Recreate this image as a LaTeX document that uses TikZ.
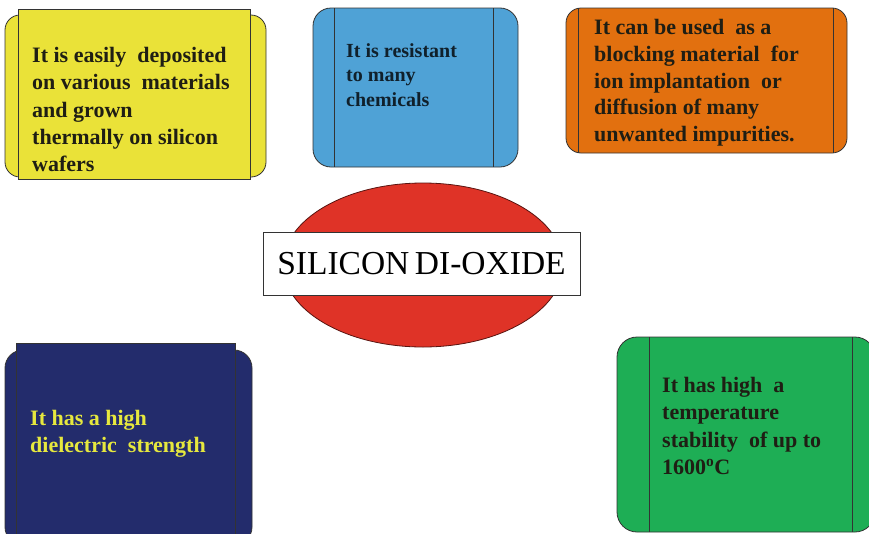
\documentclass[tikz,border=0pt]{standalone}
\usepackage{fontspec}
\setmainfont{Liberation Serif}
\usetikzlibrary{calc}
\definecolor{cyel}{HTML}{EAE238}
\definecolor{cblu}{HTML}{4FA2D6}
\definecolor{cora}{HTML}{E2700F}
\definecolor{cnav}{HTML}{232C6C}
\definecolor{cgrn}{HTML}{1EAE55}
\definecolor{cred}{HTML}{DF3327}
\definecolor{ctxt}{HTML}{1F1E14}
\definecolor{cnavtxt}{HTML}{E6E83E}
\tikzset{
  edge/.style={draw=black!80, line width=0.8pt},
  info/.style={anchor=north west, inner sep=0pt, align=left, font=\bfseries\fontsize{22}{27.3}\selectfont, text=ctxt},
}
\begin{document}
\begin{tikzpicture}[x=1pt,y=-1pt]
\useasboundingbox (0,0) rectangle (869,533);

% yellow plaque
\path[edge, fill=cyel, rounded corners=15pt] (5,15) rectangle (266,177);
\path[edge, fill=cyel] (18,9) rectangle (250,179);
\node[info] (t1) at (32,47) {It is easily\ \ deposited\\on various\ \ materials\\and grown\\thermally on silicon\\wafers};

% blue plaque
\path[edge, fill=cblu, rounded corners=18pt] (313,8) rectangle (518,167);
\draw[edge] (334,8) -- (334,167) (493,8) -- (493,167);
\node[info, font=\bfseries\fontsize{20}{24.5}\selectfont, text=black!80!cblu] (t2) at (346,43) {It is resistant\\to many\\chemicals};

% orange plaque
\path[edge, fill=cora, rounded corners=15pt] (566,8) rectangle (847,153);
\draw[edge] (578,8) -- (578,153) (833,8) -- (833,153);
\node[info, font=\bfseries\fontsize{22}{26.8}\selectfont] (t3) at (594,19) {It can be used\ \ as a\\blocking material\ \ for\\ion implantation\ \ or\\diffusion of many\\unwanted impurities.};

% red ellipse with title
\path[draw=black!60!cred, line width=0.8pt, fill=cred] (423,265) ellipse [x radius=140, y radius=82];
\node[draw=black!80, line width=0.8pt, fill=white, minimum width=317pt, minimum height=63pt, inner sep=0pt, font=\fontsize{33.5}{38}\selectfont] (title) at (421.5,263.5) {SILICON\,DI-OXIDE};

% navy plaque
\path[edge, fill=cnav, rounded corners=18pt] (5,350) rectangle (252,545);
\path[edge, fill=cnav] (16,343) rectangle (235,545);
\node[info, text=cnavtxt] (t4) at (30,410) {It has a high\\dielectric\ \ strength};

% green plaque
\path[edge, fill=cgrn, rounded corners=20pt] (617,337) rectangle (875,532);
\draw[edge] (649,337) -- (649,532) (852,337) -- (852,532);
\node[info] (t5) at (662,377) {It has high\ \ a\\temperature\\stability\ \ of up to\\1600\textsuperscript{o}C};
\end{tikzpicture}
\end{document}
